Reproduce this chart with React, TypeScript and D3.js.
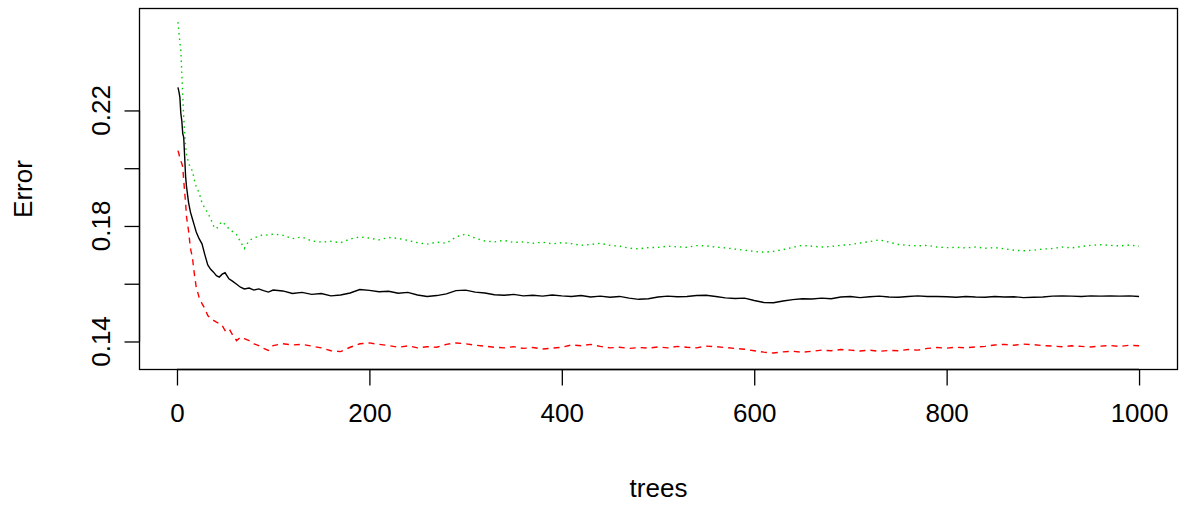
import React, { useEffect, useRef } from 'react';
import * as d3 from 'd3';

// number of trees at each sampled point
const trees = [
  1, 2, 3, 4, 5, 6, 7, 8, 9, 10, 12, 14, 16, 18, 20, 23, 26, 29, 32, 35, 38, 41, 44, 47, 50,
  54, 58, 62, 66, 70, 75, 80, 85, 90, 95, 100,
  110, 120, 130, 140, 150, 160, 170, 180, 190, 200,
  210, 220, 230, 240, 250, 260, 270, 280, 290, 300,
  310, 320, 330, 340, 350, 360, 370, 380, 390, 400,
  410, 420, 430, 440, 450, 460, 470, 480, 490, 500,
  510, 520, 530, 540, 550, 560, 570, 580, 590, 600,
  610, 620, 630, 640, 650, 660, 670, 680, 690, 700,
  710, 720, 730, 740, 750, 760, 770, 780, 790, 800,
  810, 820, 830, 840, 850, 860, 870, 880, 890, 900,
  910, 920, 930, 940, 950, 960, 970, 980, 990, 1000,
];

// OOB error (black, solid)
const oob = [
  0.2280, 0.2265, 0.2246, 0.2190, 0.2165, 0.2120, 0.2107, 0.2038, 0.1969, 0.1934,
  0.1882, 0.1848, 0.1825, 0.1802, 0.1779, 0.1756, 0.1738, 0.1700, 0.1665, 0.1650,
  0.1640, 0.1628, 0.1623, 0.1633, 0.1638, 0.1617, 0.1608, 0.1598, 0.1588, 0.1582,
  0.1585, 0.1578, 0.1582, 0.1576, 0.1571, 0.1578,
  0.1575, 0.1566, 0.1570, 0.1563, 0.1566, 0.1558, 0.1561, 0.1568, 0.1580, 0.1577,
  0.1572, 0.1574, 0.1567, 0.1570, 0.1561, 0.1556, 0.1559, 0.1565, 0.1576, 0.1578,
  0.1571, 0.1568, 0.1562, 0.1560, 0.1563, 0.1558, 0.1560, 0.1557, 0.1561, 0.1558,
  0.1556, 0.1559, 0.1554, 0.1557, 0.1553, 0.1556, 0.1550, 0.1546, 0.1548, 0.1554,
  0.1557, 0.1555, 0.1556, 0.1559, 0.1560, 0.1556, 0.1551, 0.1549, 0.1550, 0.1542,
  0.1535, 0.1534, 0.1540, 0.1545, 0.1548, 0.1547, 0.1550, 0.1548, 0.1554, 0.1556,
  0.1552, 0.1555, 0.1557, 0.1554, 0.1553, 0.1556, 0.1558, 0.1556, 0.1556, 0.1555,
  0.1553, 0.1556, 0.1554, 0.1553, 0.1556, 0.1554, 0.1555, 0.1552, 0.1553, 0.1554,
  0.1557, 0.1558, 0.1557, 0.1556, 0.1558, 0.1557, 0.1558, 0.1557, 0.1558, 0.1556,
];

// class 1 error (red, dashed)
const class1 = [
  0.2061, 0.2050, 0.2035, 0.2025, 0.2016, 0.2004, 0.1958, 0.1917, 0.1877, 0.1830,
  0.1784, 0.1722, 0.1692, 0.1635, 0.1588, 0.1553, 0.1531, 0.1514, 0.1490, 0.1480,
  0.1473, 0.1467, 0.1462, 0.1455, 0.1438, 0.1445, 0.1421, 0.1403, 0.1415, 0.1410,
  0.1403, 0.1392, 0.1386, 0.1376, 0.1369, 0.1386,
  0.1392, 0.1388, 0.1390, 0.1384, 0.1378, 0.1368, 0.1365, 0.1380, 0.1392, 0.1395,
  0.1390, 0.1386, 0.1380, 0.1385, 0.1378, 0.1382, 0.1380, 0.1390, 0.1395, 0.1392,
  0.1387, 0.1384, 0.1380, 0.1378, 0.1382, 0.1376, 0.1379, 0.1374, 0.1377, 0.1380,
  0.1388, 0.1385, 0.1390, 0.1383, 0.1378, 0.1380, 0.1376, 0.1379, 0.1377, 0.1381,
  0.1378, 0.1383, 0.1380, 0.1378, 0.1384, 0.1382, 0.1379, 0.1376, 0.1373, 0.1368,
  0.1363, 0.1360, 0.1364, 0.1366, 0.1363, 0.1366, 0.1370, 0.1368, 0.1372, 0.1370,
  0.1367, 0.1370, 0.1366, 0.1369, 0.1368, 0.1372, 0.1370, 0.1376, 0.1379, 0.1377,
  0.1380, 0.1378, 0.1381, 0.1383, 0.1388, 0.1390, 0.1387, 0.1391, 0.1389, 0.1386,
  0.1384, 0.1382, 0.1385, 0.1383, 0.1381, 0.1384, 0.1386, 0.1383, 0.1387, 0.1385,
];

// class 2 error (green, dotted)
const class2 = [
  0.2506, 0.2470, 0.2435, 0.2408, 0.2330, 0.2250, 0.2177, 0.2120, 0.2075, 0.2045,
  0.2020, 0.2000, 0.1992, 0.1960, 0.1935, 0.1915, 0.1880, 0.1862, 0.1845, 0.1825,
  0.1800, 0.1790, 0.1805, 0.1815, 0.1805, 0.1790, 0.1780, 0.1770, 0.1745, 0.1722,
  0.1750, 0.1758, 0.1765, 0.1770, 0.1768, 0.1772,
  0.1768, 0.1756, 0.1762, 0.1748, 0.1744, 0.1747, 0.1742, 0.1755, 0.1762, 0.1758,
  0.1752, 0.1760, 0.1757, 0.1750, 0.1742, 0.1737, 0.1744, 0.1740, 0.1762, 0.1772,
  0.1758, 0.1748, 0.1745, 0.1750, 0.1743, 0.1745, 0.1740, 0.1744, 0.1738, 0.1742,
  0.1739, 0.1733, 0.1736, 0.1740, 0.1733, 0.1730, 0.1723, 0.1721, 0.1725, 0.1726,
  0.1730, 0.1728, 0.1726, 0.1732, 0.1731, 0.1727, 0.1724, 0.1720, 0.1716, 0.1712,
  0.1709, 0.1712, 0.1718, 0.1726, 0.1733, 0.1730, 0.1727, 0.1729, 0.1733, 0.1736,
  0.1741, 0.1746, 0.1752, 0.1744, 0.1736, 0.1733, 0.1731, 0.1733, 0.1727, 0.1725,
  0.1726, 0.1724, 0.1727, 0.1723, 0.1725, 0.1721, 0.1716, 0.1714, 0.1716, 0.1720,
  0.1722, 0.1727, 0.1724, 0.1729, 0.1733, 0.1735, 0.1733, 0.1731, 0.1734, 0.1730,
];

const xTicks = [0, 200, 400, 600, 800, 1000];
const yTicks = [0.14, 0.16, 0.18, 0.2, 0.22];
const yLabels = [0.14, 0.18, 0.22];

const App = () => {
  const svgRef = useRef(null);

  useEffect(() => {
    document.body.style.margin = '0';

    const width = 1181;
    const height = 510;
    const box = { left: 139.5, right: 1177.5, top: 8.5, bottom: 369.5 };
    const font = '"Liberation Sans", Arial, sans-serif';

    const svg = d3.select(svgRef.current)
      .attr('width', width)
      .attr('height', height)
      .style('display', 'block')
      .style('background', '#fff');

    svg.selectAll('*').remove();

    // R style: 4% padding on the x range 1..1000
    const xScale = d3.scaleLinear()
      .domain([1 - 999 * 0.04, 1000 + 999 * 0.04])
      .range([box.left, box.right]);

    const yScale = d3.scaleLinear()
      .domain([0.1303, 0.2553])
      .range([box.bottom, box.top]);

    const series = [
      { values: class2, color: '#00cd00', dash: '1.5,4' },
      { values: class1, color: '#ff0000', dash: '6,5' },
      { values: oob, color: '#000000', dash: null },
    ];

    const line = d3.line()
      .x(d => xScale(d[0]))
      .y(d => yScale(d[1]));

    svg.append('defs').append('clipPath').attr('id', 'plotClip')
      .append('rect')
      .attr('x', box.left)
      .attr('y', box.top)
      .attr('width', box.right - box.left)
      .attr('height', box.bottom - box.top);

    const plot = svg.append('g').attr('clip-path', 'url(#plotClip)');

    series.forEach(s => {
      const pts = trees.map((t, i) => [t, s.values[i]]);
      plot.append('path')
        .datum(pts)
        .attr('fill', 'none')
        .attr('stroke', s.color)
        .attr('stroke-width', 1.4)
        .attr('stroke-dasharray', s.dash)
        .attr('d', line);
    });

    // box
    svg.append('rect')
      .attr('x', box.left)
      .attr('y', box.top)
      .attr('width', box.right - box.left)
      .attr('height', box.bottom - box.top)
      .attr('fill', 'none')
      .attr('stroke', '#000')
      .attr('stroke-width', 1.3);

    // x axis
    const xAxis = d3.axisBottom(xScale)
      .tickValues(xTicks)
      .tickSize(16)
      .tickPadding(18)
      .tickFormat(d3.format('d'));

    const gx = svg.append('g')
      .attr('transform', `translate(0,${box.bottom})`)
      .call(xAxis);
    gx.select('.domain')
      .attr('d', `M${xScale(0)},0H${xScale(1000)}`)
      .attr('stroke-width', 1.3);
    gx.selectAll('.tick line').attr('stroke-width', 1.3);
    gx.selectAll('.tick text')
      .attr('font-family', font)
      .attr('font-size', 26)
      .attr('fill', '#000');

    // y axis: R skips overlapping labels
    const yAxis = d3.axisLeft(yScale)
      .tickValues(yTicks)
      .tickSize(15)
      .tickFormat(() => '');

    const gy = svg.append('g')
      .attr('transform', `translate(${box.left},0)`)
      .call(yAxis);
    gy.select('.domain')
      .attr('d', `M0,${yScale(0.14)}V${yScale(0.22)}`)
      .attr('stroke-width', 1.3);
    gy.selectAll('.tick line').attr('stroke-width', 1.3);

    svg.append('g')
      .selectAll('text')
      .data(yLabels)
      .enter().append('text')
      .attr('transform', d => `translate(${box.left - 30},${yScale(d)}) rotate(-90)`)
      .attr('text-anchor', 'middle')
      .attr('font-family', font)
      .attr('font-size', 26)
      .attr('fill', '#000')
      .text(d => d.toFixed(2));

    // axis titles
    svg.append('text')
      .attr('x', (box.left + box.right) / 2)
      .attr('y', 497)
      .attr('text-anchor', 'middle')
      .attr('font-family', font)
      .attr('font-size', 26)
      .attr('fill', '#000')
      .text('trees');

    svg.append('text')
      .attr('transform', `translate(32,${(box.top + box.bottom) / 2}) rotate(-90)`)
      .attr('text-anchor', 'middle')
      .attr('font-family', font)
      .attr('font-size', 26)
      .attr('fill', '#000')
      .text('Error');
  }, []);

  return (
    <svg ref={svgRef}></svg>
  );
};

export default App;
